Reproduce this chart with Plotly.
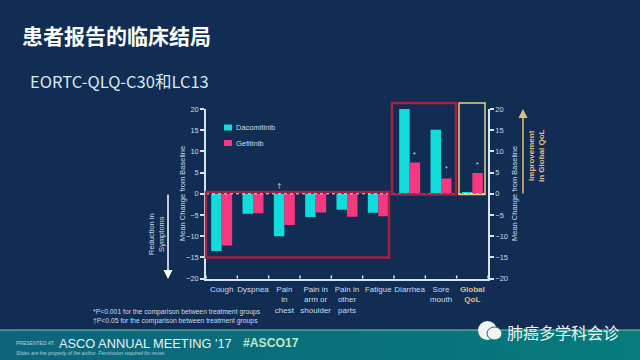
import plotly.graph_objects as go

categories = ["Cough", "Dyspnea", "Pain<br>in<br>chest", "Pain in<br>arm or<br>shoulder", "Pain in<br>other<br>parts", "Fatigue", "Diarrhea", "Sore<br>mouth", "<b>Global<br>QoL</b>"]
dacomitinib = [-13.5, -4.7, -10.0, -5.5, -3.8, -4.5, 20.0, 15.1, 0.4]
gefitinib = [-12.2, -4.6, -7.4, -4.4, -5.4, -5.3, 7.4, 3.6, 4.9]
tick_values = [-20, -15, -10, -5, 0, 5, 10, 15, 20]
tick_labels = ["−20", "−15", "−10", "−5", "0", "5", "10", "15", "20"]
star_positions = [6, 7, 8]
star_heights = [9.2, 5.9, 6.8]

BG = "#122D53"
LIGHT = "#C9DCEA"
AXIS = "#D5E5F0"
TAN = "#E4BE78"
CYAN = "#10DCDC"
PINK = "#F5387F"
RED = "#A5213F"

xvals = list(range(len(categories)))
tick_text = categories[:-1] + [f'<span style="color:{TAN}">{categories[-1]}</span>']

fig = go.Figure()
fig.add_bar(x=xvals, y=dacomitinib, name="Dacomitinib", marker_color=CYAN, marker_line_width=0)
fig.add_bar(x=xvals, y=gefitinib, name="Gefitinib", marker_color=PINK, marker_line_width=0)
fig.add_scatter(x=[0], y=[None], yaxis="y2", showlegend=False, hoverinfo="skip", marker_opacity=0)

font = "Liberation Sans"
axis_common = dict(range=[-20, 20], tickvals=tick_values, ticktext=tick_labels, showgrid=False, zeroline=False,
                   showline=True, linecolor=AXIS, linewidth=1.5, ticks="outside", ticklen=4, tickwidth=1.5, tickcolor=AXIS,
                   tickfont=dict(size=7.5, color=LIGHT, family=font))

fig.update_layout(
    width=640, height=360, margin=dict(l=0, r=0, t=0, b=0, autoexpand=False),
    paper_bgcolor=BG, plot_bgcolor=BG,
    barmode="group", bargap=0.33, bargroupgap=0,
    font=dict(family=font, color=LIGHT),
    xaxis=dict(domain=[206/640, 488/640], range=[-0.5, 8.5], tickmode="array", tickvals=xvals, ticktext=tick_text,
               showgrid=False, zeroline=False, showline=True, linecolor=AXIS, linewidth=1.5,
               ticks="", ticklabelstandoff=2, tickfont=dict(size=8, color=LIGHT, family=font), tickangle=0, anchor="y"),
    yaxis=dict(domain=[(360-278.5)/360, (360-109)/360], anchor="x", **axis_common),
    yaxis2=dict(overlaying="y", side="right", anchor="x", **axis_common),
    showlegend=False,
)

shapes = []
# footer gradient band
steps = 32
for i in range(steps):
    t = i / (steps - 1)
    r = int(14 + (6 - 14) * t)
    g = int(101 + (124 - 101) * t)
    shapes.append(dict(type="rect", xref="paper", yref="paper", x0=i/steps, x1=(i+1)/steps+0.001, y0=0, y1=30/360,
                       fillcolor=f"rgb({r},{g},124)", line_width=0, layer="below"))
shapes.append(dict(type="line", xref="paper", yref="paper", x0=0, x1=1, y0=30/360, y1=30/360, line=dict(color="#7FC9A8", width=1.2)))
# zero dotted line
shapes.append(dict(type="line", xref="x", yref="y", x0=-0.5, x1=8.5, y0=0, y1=0, line=dict(color="#FFFFFF", width=1, dash="dot")))
# highlight boxes
def box(x0, x1, top, bottom, color, width):
    return dict(type="rect", xref="paper", yref="paper", x0=x0/640, x1=x1/640, y0=(360-bottom)/360, y1=(360-top)/360,
                line=dict(color=color, width=width))
shapes.append(box(206, 389, 192, 257.5, RED, 2.5))
shapes.append(box(392, 456, 103, 194.5, RED, 2.5))
shapes.append(box(459, 485, 103, 194.5, "#E8CE8A", 1.5))
# x ticks between categories
for i in range(10):
    shapes.append(dict(type="line", xref="x", yref="paper", x0=i-0.5, x1=i-0.5, y0=(360-278.5)/360, y1=(360-275.5)/360, line=dict(color=AXIS, width=1.5)))
# hand-placed key
for y, col in ((127.5, CYAN), (143, PINK)):
    shapes.append(dict(type="rect", xref="paper", yref="paper", x0=224/640, x1=232/640, y0=(360-y-3)/360, y1=(360-y+3)/360, fillcolor=col, line_width=0))
# wechat glyph
shapes.append(dict(type="circle", xref="paper", yref="paper", x0=478/640, x1=497/640, y0=(360-340)/360, y1=(360-321)/360, fillcolor="#F2F4F4", line_width=0))
shapes.append(dict(type="circle", xref="paper", yref="paper", x0=487/640, x1=502/640, y0=(360-340)/360, y1=(360-327)/360, fillcolor="#F2F4F4", line=dict(color="#1A6F80", width=1)))
fig.update_layout(shapes=shapes)

def note(text, x, y, size, color, xanchor="left", yanchor="middle", angle=0, family=font, align="left"):
    fig.add_annotation(text=text, x=x/640, y=(360-y)/360, xref="paper", yref="paper", showarrow=False,
                       font=dict(size=size, color=color, family=family), xanchor=xanchor, yanchor=yanchor,
                       textangle=angle, align=align)

cjk = "Noto Sans CJK SC"
note("<b>患者报告的临床结局</b>", 20, 35, 21, "#FFFFFF", family=cjk)
note("EORTC-QLQ-C30和LC13", 28, 81, 16.5, "#D8E8F2", family=cjk)
note("Dacomitinib", 234, 127.5, 7.5, LIGHT)
note("Gefitinib", 234, 143, 7.5, LIGHT)
note("Mean Change from Baseline", 182, 194, 7.5, LIGHT, "center", angle=-90)
note("Mean Change from Baseline", 514, 194, 7.5, LIGHT, "center", angle=-90)
note("Reduction in<br>Symptoms", 156, 234, 7.5, LIGHT, "center", angle=-90, align="center")
note("<b>Improvement<br>in Global QoL</b>", 536, 156, 8, TAN, "center", angle=-90, align="center")
note("†", 279, 186, 8, LIGHT, "center")
for pos, h in zip(star_positions, star_heights):
    fig.add_annotation(text="*", x=pos + 0.17, y=h, xref="x", yref="y", showarrow=False, font=dict(size=7, color=LIGHT, family=font))
note("*P<0.001 for the comparison between treatment groups<br>†P<0.05 for the comparison between treatment groups", 91, 316, 6.8, LIGHT)
note("PRESENTED AT:", 14, 343, 5, "#B8D5DC")
note("ASCO ANNUAL MEETING '17", 57, 343, 12.8, "#E4F2F2")
note("<b>#ASCO17</b>", 241, 343, 12.2, "#BFEAC0")
note("<i>Slides are the property of the author. Permission required for reuse.</i>", 14, 353, 5, "#A8D0D4")
note("肺癌多学科会诊", 505, 332, 16, "#F2F5F5", family=cjk)

# arrows
fig.add_annotation(x=168/640, y=(360-279)/360, ax=0, ay=-86, xref="paper", yref="paper", axref="pixel", ayref="pixel",
                   text="", showarrow=True, arrowhead=2, arrowsize=1.2, arrowwidth=1.5, arrowcolor="#FFFFFF")
fig.add_annotation(x=523/640, y=(360-109)/360, ax=0, ay=86, xref="paper", yref="paper", axref="pixel", ayref="pixel",
                   text="", showarrow=True, arrowhead=2, arrowsize=1.2, arrowwidth=1.5, arrowcolor=TAN)

fig.write_html("out.html", config={"displayModeBar": False},
               post_script="document.body.style.margin='0';document.body.style.background='%s';" % BG)
